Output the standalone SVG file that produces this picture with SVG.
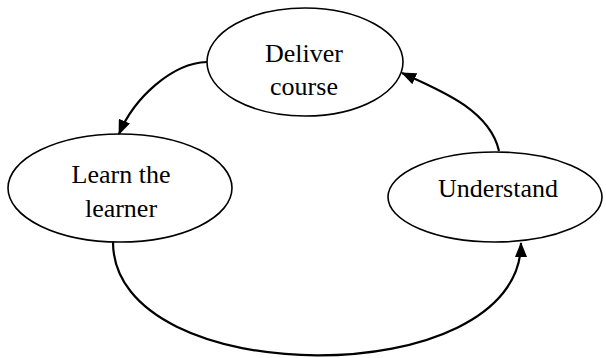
<svg xmlns="http://www.w3.org/2000/svg" width="606" height="358" viewBox="0 0 606 358">
  <style>
    .node { fill: #ffffff; stroke: #000000; stroke-width: 1.6; }
    .label { font-family: "Liberation Serif", "Times New Roman", serif; font-size: 26px; fill: #000000; text-anchor: middle; }
    .edge { fill: none; stroke: #000000; stroke-width: 2.2; }
  </style>
  <defs>
    <marker id="arrow" markerUnits="userSpaceOnUse" markerWidth="15" markerHeight="12" refX="14" refY="6" orient="auto">
      <path d="M0,0 L15,6 L0,12 z" fill="#000000"/>
    </marker>
  </defs>

  <rect width="606" height="358" fill="#ffffff"/>

  <g id="deliver-course">
    <ellipse class="node" cx="305" cy="62" rx="98" ry="54"/>
    <text class="label" x="304" y="61.5">Deliver</text>
    <text class="label" x="304" y="95">course</text>
  </g>

  <g id="learn-the-learner">
    <ellipse class="node" cx="120" cy="188" rx="112" ry="54"/>
    <text class="label" x="121" y="183">Learn the</text>
    <text class="label" x="121" y="216.5">learner</text>
  </g>

  <g id="understand">
    <ellipse class="node" cx="495" cy="197" rx="107" ry="45"/>
    <text class="label" x="498" y="196.5">Understand</text>
  </g>

  <g id="connectors">
    <path class="edge" d="M207,62 C172,63 134,98 119,134" marker-end="url(#arrow)"/>
    <path class="edge" d="M499,151 C490,110 440,90 402,73" marker-end="url(#arrow)"/>
    <path class="edge" d="M113,242 C113,392 521,394 521,243" marker-end="url(#arrow)"/>
  </g>
</svg>
